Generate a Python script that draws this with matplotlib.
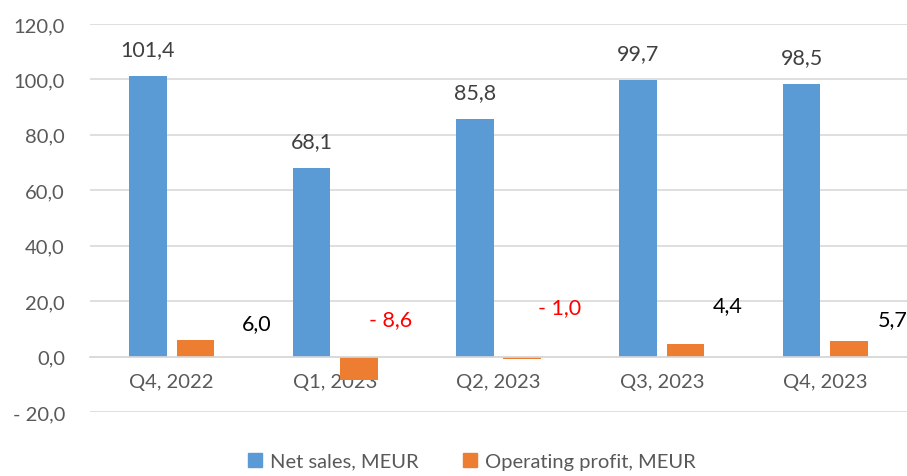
import matplotlib.pyplot as plt
import numpy as np
from matplotlib.patches import Patch

# data
quarters = ['Q4, 2022', 'Q1, 2023', 'Q2, 2023', 'Q3, 2023', 'Q4, 2023']
net_sales = [101.4, 68.1, 85.8, 99.7, 98.5]
op_profit = [6.0, -8.6, -1.0, 4.4, 5.7]
# hand placed positions of the profit labels (x in category units, y in data units)
profit_label_x = [0.43, 1.21, 2.24, 3.31, 4.32]
profit_label_y = [11.9, 13.7, 17.7, 18.4, 13.7]

blue = '#5B9BD5'
orange = '#ED7D31'
grey_text = '#595959'
grid_col = '#D9D9D9'

plt.rcParams['font.family'] = ['Lato', 'DejaVu Sans']


def fmt(v):
    s = f'{abs(v):.1f}'.replace('.', ',')
    return ('- ' + s) if v < 0 else s


fig = plt.figure(figsize=(9.07, 4.77), dpi=100)
ax = fig.add_axes([90 / 907, 1 - 413 / 477, 1 - 90 / 907, (413 - 25) / 477])

x = np.arange(len(quarters))
w = 0.23
gap = 0.06
ax.bar(x - (w + gap) / 2, net_sales, w, color=blue, zorder=3)
ax.bar(x + (w + gap) / 2, op_profit, w, color=orange, zorder=3)

ax.set_xlim(-0.5, len(quarters) - 0.5)
ax.set_ylim(-20, 120)
ax.set_yticks(np.arange(-20, 121, 20))
ax.set_yticklabels([fmt(v) for v in np.arange(-20, 121, 20)])
ax.grid(axis='y', color=grid_col, linewidth=1.2, zorder=0)

for s in ['top', 'right', 'left']:
    ax.spines[s].set_visible(False)
ax.spines['bottom'].set_position(('data', 0))
ax.spines['bottom'].set_color(grid_col)
ax.spines['bottom'].set_linewidth(1.2)
ax.spines['bottom'].set_zorder(4)

ax.set_xticks(x)
ax.set_xticklabels(quarters)
ax.tick_params(axis='x', length=0, pad=12, labelsize=14.5, colors=grey_text)
ax.tick_params(axis='y', length=0, pad=18, labelsize=14.5, colors=grey_text)

# value labels on net sales
for i, v in enumerate(net_sales):
    ax.annotate(fmt(v), (x[i] - (w + gap) / 2, v), xytext=(0, 12), textcoords='offset points',
                ha='center', va='bottom', fontsize=15.5, color='#404040')

# profit labels, red when negative
for i, v in enumerate(op_profit):
    ax.text(profit_label_x[i], profit_label_y[i], fmt(v), ha='left', va='center',
            fontsize=15.5, color='red' if v < 0 else 'black', clip_on=False)

handles = [Patch(color=blue, label='Net sales, MEUR'),
           Patch(color=orange, label='Operating profit, MEUR')]
fig.legend(handles=handles, loc='center', bbox_to_anchor=(0.52, 0.031), ncol=2, frameon=False,
           fontsize=14.5, handlelength=0.7, handleheight=0.7, handletextpad=0.4,
           columnspacing=2.2, labelcolor=grey_text)

fig.savefig('out.png', dpi=100)
